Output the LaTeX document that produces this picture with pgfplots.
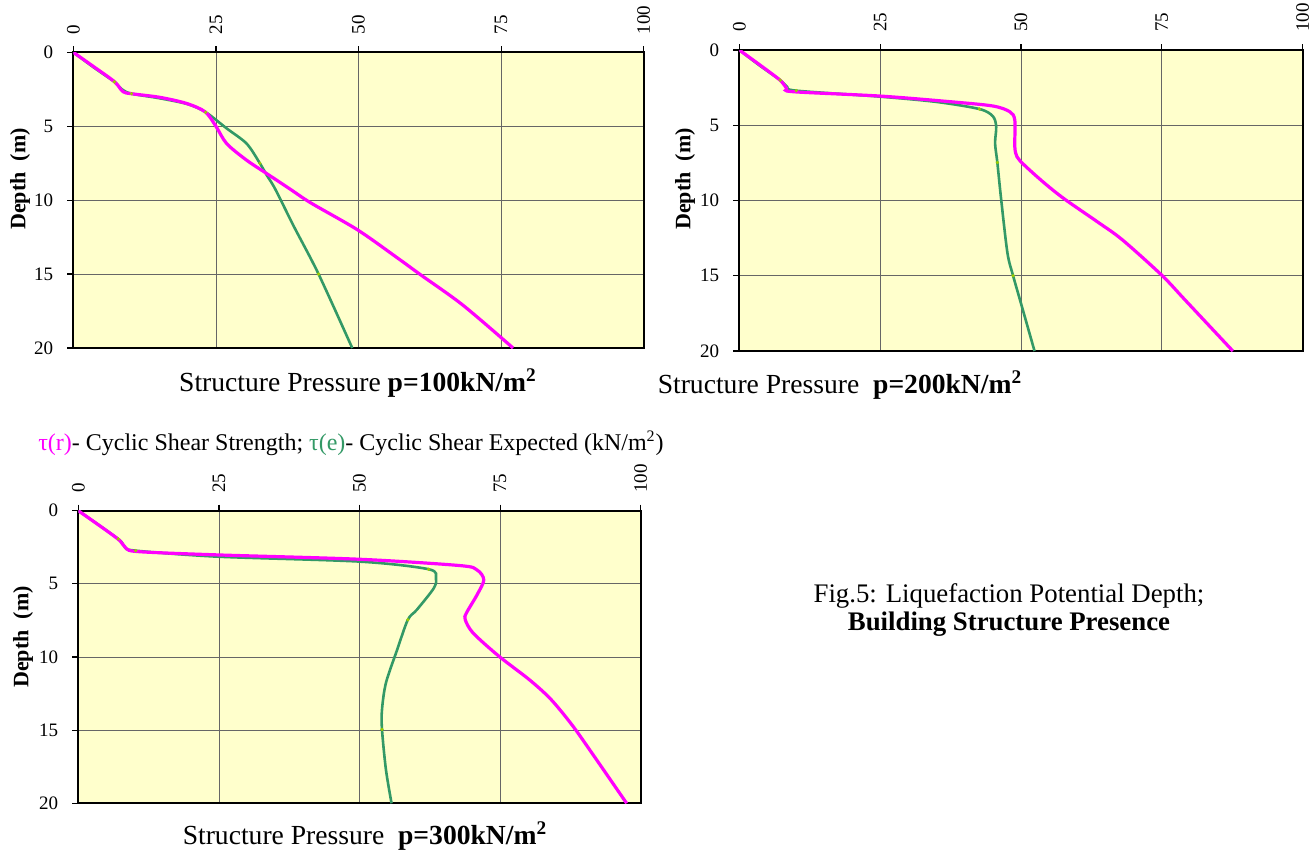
\documentclass[border=0pt]{standalone}
\usepackage{fontspec}
\setmainfont{Liberation Serif}
\usepackage{pgfplots}
\pgfplotsset{compat=1.18}
\definecolor{bgy}{HTML}{FFFFCC}
\definecolor{tegreen}{HTML}{339966}
\definecolor{trmag}{HTML}{FF00FF}
\definecolor{mk}{HTML}{99CC00}
\pgfplotsset{
  liq/.style={
    scale only axis,
    xmin=0,xmax=100,ymin=0,ymax=20,
    y dir=reverse,
    xtick={0,25,50,75,100},
    ytick={0,5,10,15,20},
    xticklabel pos=right,
    xtick pos=right,
    ytick pos=left,
    tick align=outside,
    major tick length=3pt,
    tick style={black, line width=0.6pt},
    xticklabel style={rotate=90, anchor=west, font=\fontsize{9.5}{10}\selectfont},
    yticklabel style={font=\fontsize{9.5}{10}\selectfont, xshift=-3.5pt},
    xticklabel shift=2.5pt,
    /pgf/number format/assume math mode=true,
    grid=major,
    major grid style={gray!80!black, line width=0.4pt},
    axis line style={black, line width=1pt},
    axis background/.style={fill=bgy},
  },
  tr/.style={trmag, line width=1.6pt, smooth, tension=0.5, no markers},
  te/.style={tegreen, line width=1.3pt, smooth, tension=0.5, no markers},
  mks/.style={only marks, mark=*, mark size=0.6pt, mk},
}
\begin{document}
\begin{tikzpicture}
\useasboundingbox (0,0) rectangle (656.5pt,-426pt);
% ---------- chart 1 ----------
\begin{axis}[liq, at={(36.65pt,-26.15pt)}, anchor=north west, width=285.2pt, height=147.85pt]
\addplot[te] coordinates {
(0,0) (3.5,1.0) (7.2,2.0) (8.5,2.5) (10.2,2.8) (15,3.1) (20,3.5) (23.2,4.05)
(26.9,5.15) (30.4,6.18) (32.7,7.5) (33.9,8.3) (35.4,9.25) (38.7,11.8) (43.0,15.0) (48.9,20)};
\addplot[tr] coordinates {
(0,0) (3.5,0.95) (7.2,1.98) (8.7,2.66) (10.2,2.8) (15.1,3.04) (19.8,3.45) (23.1,4.02)
(25.0,5.0) (26.9,6.18) (30.4,7.3) (33.9,8.2) (38.0,9.25) (41.7,10.2) (49.8,12.0)
(56.8,13.9) (60.9,15.05) (68.3,17.1) (77.1,20)};
\addplot[mks] coordinates {(7.2,2.0) (10.2,2.8) (23.2,4.05) (32.7,7.5) (43.0,15.0)};
\end{axis}
% ---------- chart 2 ----------
\begin{axis}[liq, at={(369.65pt,-25pt)}, anchor=north west, width=281.7pt, height=150.5pt]
\addplot[te] coordinates {
(0,0) (3.5,1.0) (7.25,2.0) (8.5,2.45) (10.1,2.7) (25,3.1) (35,3.45) (42.6,3.92)
(45,4.4) (45.6,5.1) (45.4,6.2) (45.8,7.47) (46.5,10.0) (47.6,13.5) (48.6,15.0)
(50.2,17.1) (52.4,20)};
\addplot[tr] coordinates {
(0,0) (6.9,1.9) (8.4,2.55) (9.5,2.77) (25,3.06) (37.6,3.44) (45,3.72) (48,4.1)
(48.9,4.66) (48.9,6.43) (49.3,7.1) (50.6,7.65) (53.9,8.76) (57.6,9.87) (63.5,11.4)
(67.95,12.6) (75,14.97) (79.1,16.6) (87.6,20)};
\addplot[mks] coordinates {(7.25,2) (10.1,2.7) (42.6,3.92) (45.8,7.47) (48.6,15)};
\end{axis}
% ---------- chart 3 ----------
\begin{axis}[liq, at={(39.15pt,-255.35pt)}, anchor=north west, width=281.2pt, height=146.3pt]
\addplot[te] coordinates {
(0,0) (7.1,1.93) (8.3,2.5) (10.2,2.73) (24.7,3.14) (50.1,3.48) (62.3,4.0) (63.6,4.6)
(63.2,5.3) (60.2,6.77) (58.6,7.45) (56.7,9.5) (54.7,11.77) (54,13.6) (54,14.95)
(54.7,17.7) (55.7,20)};
\addplot[tr] coordinates {
(0,0) (6.9,1.89) (8.5,2.57) (10.8,2.8) (24.7,3.02) (50.1,3.32) (67.85,3.75) (70.9,4.05)
(72.1,4.73) (70.9,5.75) (69,7.0) (68.8,7.45) (70.2,8.36) (74.8,9.95) (80.2,11.55)
(84.05,12.9) (87.9,14.7) (91.75,16.8) (97.5,20)};
\addplot[mks] coordinates {(7.1,1.93) (10.2,2.73) (62.3,4.0) (58.6,7.45) (54,14.95)};
\end{axis}
% ---------- texts ----------
\node[rotate=90, font=\bfseries\fontsize{11}{12}\selectfont] at (10pt,-89.5pt) {Depth\ \ (m)};
\node[rotate=90, font=\bfseries\fontsize{11}{12}\selectfont] at (342.5pt,-89.5pt) {Depth\ \ (m)};
\node[rotate=90, font=\bfseries\fontsize{11}{12}\selectfont] at (11.5pt,-318.5pt) {Depth\ \ (m)};
\node[font=\fontsize{13.8}{15}\selectfont] at (179pt,-191.5pt) {Structure Pressure \textbf{p=100kN/m\textsuperscript{2}}};
\node[font=\fontsize{13.8}{15}\selectfont] at (420pt,-192.5pt) {Structure Pressure\ \ \textbf{p=200kN/m\textsuperscript{2}}};
\node[font=\fontsize{13.8}{15}\selectfont] at (182.5pt,-418pt) {Structure Pressure\ \ \textbf{p=300kN/m\textsuperscript{2}}};
\node[font=\fontsize{12}{13}\selectfont] at (175.5pt,-221.5pt) {\textcolor{trmag}{τ(r)}- Cyclic Shear Strength; \textcolor{tegreen}{τ(e)}- Cyclic Shear Expected (kN/m\textsuperscript{2})};
\node[font=\fontsize{13.4}{14}\selectfont, align=center] at (504.5pt,-305pt) {Fig.5: Liquefaction Potential Depth;\\ \textbf{Building Structure Presence}};
\end{tikzpicture}
\end{document}
